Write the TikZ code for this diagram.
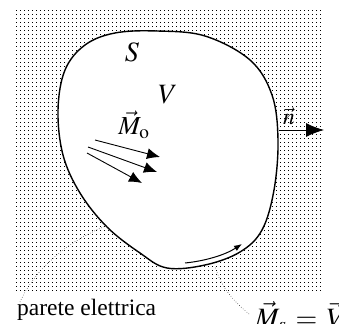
\documentclass[tikz,border=0pt]{standalone}
\usepackage{mathptmx}
\usepackage{fontspec}
\setmainfont{Liberation Serif}
\usetikzlibrary{arrows.meta}
\tikzset{
  lbl/.style={inner sep=0pt, font=\fontsize{23.5}{28}\selectfont},
  biglbl/.style={inner sep=0pt, font=\fontsize{28}{32}\selectfont},
  bigarrow/.style={line width=0.9pt, -{Latex[length=13pt,width=11pt]}},
  narrow/.style={line width=0.9pt, -{Latex[length=18pt,width=14pt]}},
  tanarrow/.style={line width=1pt, -{Latex[length=8pt,width=6pt]}},
  leader/.style={line width=0.5pt, dotted},
  wall/.style={draw=black, fill=white, line width=1.4pt}
}
\begin{document}
\begin{tikzpicture}[x=1pt,y=-1pt]
\useasboundingbox (0,0) rectangle (339,323);
% dotted background
\foreach \i in {0,...,76}{
  \foreach \j in {0,...,70}{
    \fill[black] ({16+4*\i},{10+4*\j}) rectangle ++(1.25,1.25);
  }
}
% blob
\draw[wall] plot[smooth cycle, tension=0.6] coordinates {
(167,268) (140,253) (107,227) (80,193) (63,155) (58,110) (65,70)
(85,45) (115,33) (157,31) (205,36) (250,60) (272,95) (278,140)
(274,190) (262,230) (240,252) (205,265)};
\coordinate (pw) at (106,226);
\coordinate (pm) at (215,266);
\coordinate (nb) at (279,130);
\coordinate (ne) at (324,130);
% labels
\node[biglbl] (S) at (132,52) {$S$};
\node[biglbl] (V) at (168,95) {$V$};
\node[lbl, font=\fontsize{26}{30}\selectfont] (Mo) at (134,125) {$\vec M_{\mathrm{o}}$};
\node[lbl] (n) at (289,116) {$\vec n$};
% M_o arrows
\coordinate (a1) at (95,140); \coordinate (b1) at (160,157);
\coordinate (a2) at (88,147); \coordinate (b2) at (157,172);
\coordinate (a3) at (87,153); \coordinate (b3) at (142,183);
\draw[bigarrow] (a1) -- (b1);
\draw[bigarrow] (a2) -- (b2);
\draw[bigarrow] (a3) -- (b3);
% normal
\draw[narrow] (nb) -- (ne);
% tangential arrow
\coordinate (t1) at (185,263);
\coordinate (t2) at (242,244);
\draw[tanarrow] (t1) .. controls (205,261) and (225,255) .. (t2);
% text labels
\node[lbl, anchor=base west] (pe) at (17,315) {parete elettrica};
\node[inner sep=0pt, font=\fontsize{28}{32}\selectfont, anchor=base west] (ms) at (255,327) {$\vec M_s\mkern2mu=\mkern2mu\vec V_{\mathrm{T}}$};
% leaders
\coordinate (pes) at (20,302);
\coordinate (mss) at (249,314);
\draw[leader] (pes) .. controls (35,268) and (70,240) .. (pw);
\draw[leader] (mss) .. controls (232,300) and (220,285) .. (pm);
\end{tikzpicture}
\end{document}
